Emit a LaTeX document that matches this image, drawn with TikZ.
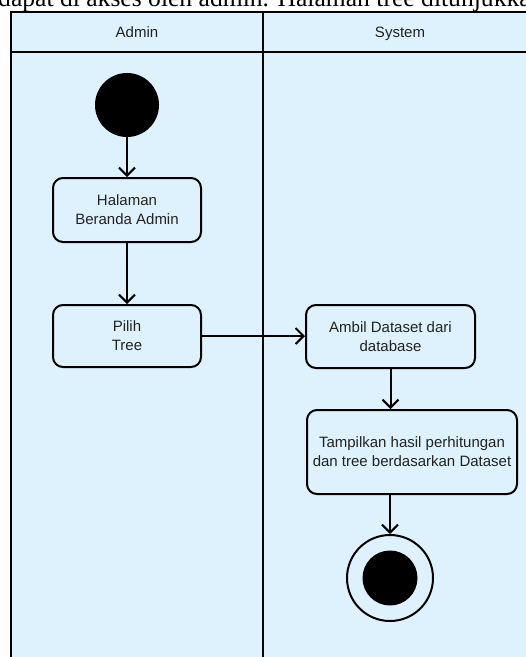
\documentclass[tikz,border=0pt]{standalone}
\usepackage{fontspec}
\setmainfont{Liberation Sans}
\newfontfamily\bodyserif{Liberation Serif}
\usetikzlibrary{arrows.meta}
\definecolor{laneblue}{HTML}{DDF2FC}
\definecolor{inkgrey}{HTML}{222222}
\begin{document}
\begin{tikzpicture}[x=1pt,y=-1pt,
  lane/.style={line width=2.2pt,draw=black},
  activity/.style={draw=black,line width=2pt,rounded corners=10pt,fill=laneblue,
    align=center,text=inkgrey,inner sep=0pt,
    font=\fontsize{15}{19}\selectfont},
  flow/.style={line width=2pt,-{Straight Barb[length=8pt,width=16pt,line width=2pt]}},
  lanelabel/.style={text=inkgrey,anchor=base,font=\fontsize{15}{19}\selectfont}]
\useasboundingbox (0,0) rectangle (526,657);
\clip (0,0) rectangle (526,657);

% running text line above the figure
\node[anchor=base west,inner sep=0pt,font=\bodyserif\fontsize{25.6}{30}\selectfont]
  (bodytext) at (-2,6) {dapat di akses oleh admin. Halaman tree ditunjukkan};

% swimlane pool
\fill[laneblue] (11,12) rectangle (540,670);
\draw[lane] (540,12) -- (11,12) -- (11,670);
\draw[lane] (11,52) -- (540,52);
\draw[lane] (263,12) -- (263,670);
\node[lanelabel] (adminlbl) at (137,37) {Admin};
\node[lanelabel] (systemlbl) at (400,37) {System};

% initial node
\node[circle,fill=black,minimum size=64pt,inner sep=0pt] (start) at (127,105) {};

% activities
\node[activity,minimum width=148pt,minimum height=64pt] (beranda) at (127,210)
  {Halaman\\Beranda Admin};
\node[activity,minimum width=148pt,minimum height=62pt] (pilih) at (127,336)
  {Pilih\\Tree};
\node[activity,minimum width=169pt,minimum height=63pt] (ambil) at (390.5,336.5)
  {Ambil Dataset dari\\database};
\node[activity,minimum width=210pt,minimum height=84pt] (tampil) at (412,452)
  {Tampilkan hasil perhitungan\\dan tree berdasarkan Dataset};

% final node
\node[circle,draw=black,line width=2pt,fill=laneblue,minimum size=86pt,inner sep=0pt]
  (final) at (390,578) {};
\node[circle,fill=black,minimum size=55pt,inner sep=0pt] (finaldot) at (final) {};

% control flows
\draw[flow] (start) -- (beranda);
\draw[flow] (beranda) -- (pilih);
\draw[flow] (pilih.east) -- (pilih.east -| ambil.west);
\draw[flow] (ambil.south) -- (ambil.south |- tampil.north);
\draw[flow] (final |- tampil.south) -- (final.north);
\end{tikzpicture}
\end{document}
